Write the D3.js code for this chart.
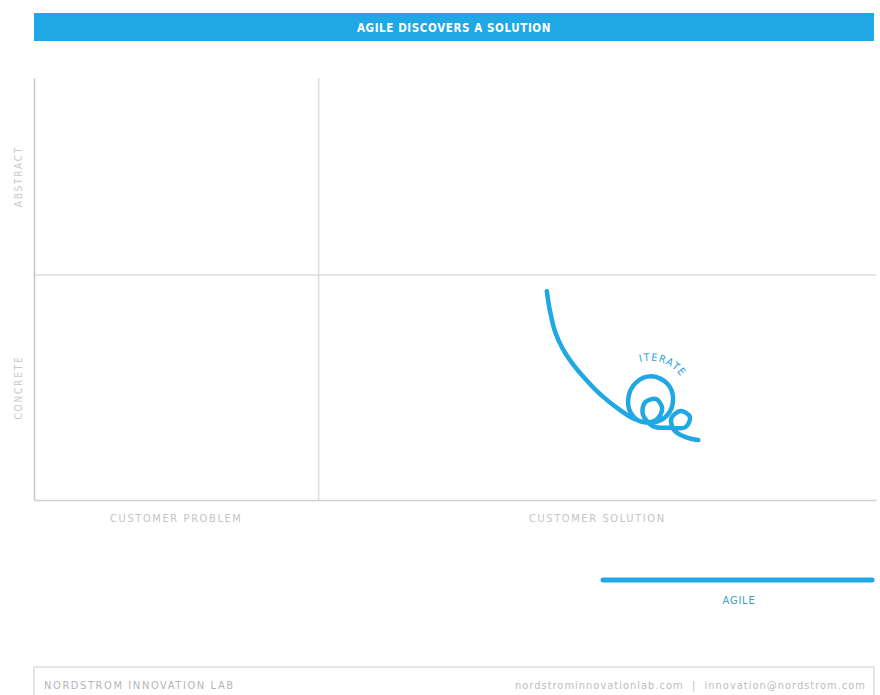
<!DOCTYPE html>
<html>
<head>
<meta charset="utf-8">
<script src="https://cdn.jsdelivr.net/npm/d3@7"></script>
<style>
  body { margin: 0; background: #fff; }
  svg { display: block; }
  text { font-family: "DejaVu Sans Condensed", "DejaVu Sans", sans-serif; }
</style>
</head>
<body>
<div id="chart"></div>
<script>
// chart content
var title = "AGILE DISCOVERS A SOLUTION";
var xCategories = ["CUSTOMER PROBLEM", "CUSTOMER SOLUTION"];
var yCategories = ["CONCRETE", "ABSTRACT"];
// quadrant splits, in 0-100 units (x: problem -> solution, y: concrete -> abstract)
var xSplit = 33.8;
var ySplit = 53.3;
// the agile path: a sweep down, then a big loop and two small ones ("iterate")
var agileX = [60.9, 61.3, 61.9, 62.8, 64.0, 65.7, 67.5, 69.4, 71.3,
              73.4, 75.2, 75.9, 75.2, 73.4, 71.6, 70.6, 70.9, 72.2,
              73.9, 74.6, 73.9, 72.6, 72.3, 73.5, 75.3,
              77.4, 77.9, 76.8, 75.7, 76.0, 77.4, 78.9];
var agileY = [49.5, 44.6, 39.8, 35.8, 32.2, 28.2, 24.6, 21.6, 19.2,
              18.3, 20.1, 24.0, 27.6, 29.3, 28.0, 24.4, 20.6, 18.5,
              19.0, 21.6, 23.9, 23.2, 20.4, 17.5, 17.1,
              17.3, 19.7, 21.1, 19.4, 16.6, 14.9, 14.2];
var loopCenter = [73.2, 24.2];
var loopLabel = "ITERATE";
var legendLabel = "AGILE";
var footerLeft = "NORDSTROM INNOVATION LAB";
var footerRight = "nordstrominnovationlab.com  |  innovation@nordstrom.com";

var blue = "#1fa8e3";
var W = 880, H = 695;

var svg = d3.select("#chart").append("svg")
    .attr("width", W)
    .attr("height", H);

// header bar
svg.append("rect")
    .attr("x", 34).attr("y", 13)
    .attr("width", 840).attr("height", 28)
    .attr("fill", blue);
svg.append("text")
    .attr("x", 454).attr("y", 31.5)
    .attr("text-anchor", "middle")
    .attr("fill", "#fff")
    .style("font-size", "11.5px")
    .style("font-weight", "bold")
    .style("letter-spacing", "0.6px")
    .text(title);

var x = d3.scaleLinear().domain([0, 100]).range([34, 876]);
var y = d3.scaleLinear().domain([0, 100]).range([500, 78]);

// quadrant grid
var grid = svg.append("g").attr("stroke", "#dcdcdc").attr("stroke-width", 1.5);
grid.append("line")
    .attr("x1", x(xSplit)).attr("x2", x(xSplit))
    .attr("y1", y(100)).attr("y2", y(0));
grid.append("line")
    .attr("x1", x(0)).attr("x2", x(100))
    .attr("y1", y(ySplit)).attr("y2", y(ySplit));

// axes with no ticks, just the lines
svg.append("g")
    .attr("transform", "translate(0," + y(0) + ")")
    .call(d3.axisBottom(x).ticks(0).tickSize(0))
    .call(function(g) { g.select(".domain").attr("stroke", "#cfcfcf").attr("stroke-width", 1.5); });
svg.append("g")
    .attr("transform", "translate(" + x(0) + ",0)")
    .call(d3.axisLeft(y).ticks(0).tickSize(0))
    .call(function(g) { g.select(".domain").attr("stroke", "#c8c8c8").attr("stroke-width", 1.5); });

// category labels, centred on each section
var xMids = [xSplit / 2, (xSplit + 100) / 2];
svg.selectAll(".xcat")
    .data(xCategories)
  .enter().append("text")
    .attr("class", "xcat")
    .attr("x", function(d, i) { return x(xMids[i]); })
    .attr("y", 522)
    .attr("text-anchor", "middle")
    .attr("fill", "#c4c4c4")
    .style("font-size", "11px")
    .style("letter-spacing", "1.6px")
    .text(function(d) { return d; });

var yMids = [ySplit / 2, (ySplit + 100) / 2];
svg.selectAll(".ycat")
    .data(yCategories)
  .enter().append("text")
    .attr("class", "ycat")
    .attr("transform", function(d, i) { return "translate(22," + y(yMids[i]) + ") rotate(-90)"; })
    .attr("text-anchor", "middle")
    .attr("fill", "#c8c8c8")
    .style("font-size", "10px")
    .style("letter-spacing", "1.8px")
    .text(function(d) { return d; });

// the agile path
var pts = agileX.map(function(v, i) { return [v, agileY[i]]; });
var lineFunc = d3.line()
    .curve(d3.curveCatmullRom.alpha(0.5))
    .x(function(d) { return x(d[0]); })
    .y(function(d) { return y(d[1]); });

svg.append("path")
    .attr("d", lineFunc(pts))
    .attr("fill", "none")
    .attr("stroke", blue)
    .attr("stroke-width", 4.5)
    .attr("stroke-linecap", "round")
    .attr("stroke-linejoin", "round");

// ITERATE on an arc above the big loop
var cx = x(loopCenter[0]), cy = y(loopCenter[1]), r = 37;
var a0 = -125 * Math.PI / 180, a1 = -15 * Math.PI / 180;
svg.append("path")
    .attr("id", "iterArc")
    .attr("fill", "none")
    .attr("d", "M" + (cx + r * Math.cos(a0)) + "," + (cy + r * Math.sin(a0)) +
               " A" + r + "," + r + " 0 0,1 " + (cx + r * Math.cos(a1)) + "," + (cy + r * Math.sin(a1)));
svg.append("text")
    .attr("fill", "#2a9fcf")
    .style("font-size", "10.5px")
    .style("letter-spacing", "1.2px")
  .append("textPath")
    .attr("href", "#iterArc")
    .attr("startOffset", "50%")
    .attr("text-anchor", "middle")
    .text(loopLabel);

// legend
svg.append("line")
    .attr("x1", 603).attr("x2", 872)
    .attr("y1", 580).attr("y2", 580)
    .attr("stroke", blue)
    .attr("stroke-width", 5)
    .attr("stroke-linecap", "round");
svg.append("text")
    .attr("x", 739).attr("y", 604)
    .attr("text-anchor", "middle")
    .attr("fill", "#3a9ec0")
    .style("font-size", "11px")
    .style("letter-spacing", "0.8px")
    .text(legendLabel);

// footer
svg.append("rect")
    .attr("x", 34).attr("y", 667)
    .attr("width", 840).attr("height", 40)
    .attr("fill", "none")
    .attr("stroke", "#d6d6d6")
    .attr("stroke-width", 1.2);
svg.append("text")
    .attr("x", 44).attr("y", 689)
    .attr("fill", "#b5b5b5")
    .style("font-size", "11px")
    .style("letter-spacing", "1.6px")
    .text(footerLeft);
svg.append("text")
    .attr("x", 866).attr("y", 689)
    .attr("text-anchor", "end")
    .attr("fill", "#bdbdbd")
    .style("font-size", "11px")
    .style("letter-spacing", "1px")
    .attr("xml:space", "preserve")
    .text(footerRight);
</script>
</body>
</html>
